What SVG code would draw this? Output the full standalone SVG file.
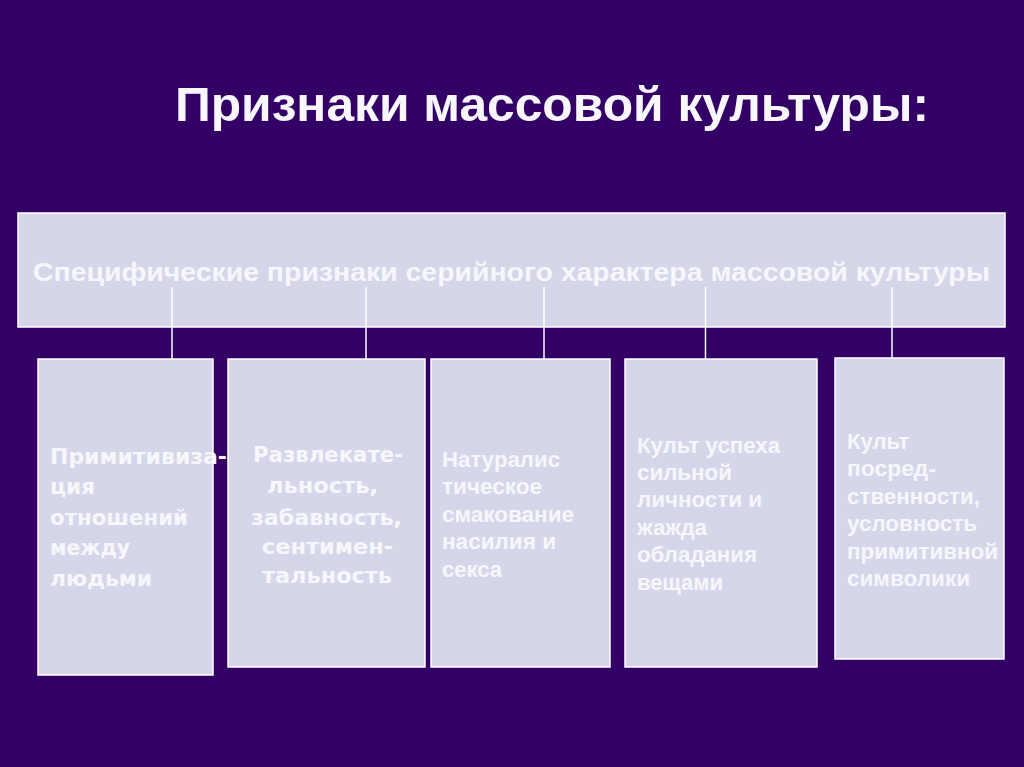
<svg xmlns="http://www.w3.org/2000/svg" width="1024" height="767" viewBox="0 0 1024 767">
<style>
.bg{fill:#330066}
.box{fill:#D6D6EA;stroke:#FFFFFF;stroke-width:1.5}
.t{fill:#F6F6FB;font-weight:bold}
.sans{font-family:"Liberation Sans",Arial,sans-serif}
.dv{font-family:"DejaVu Sans",Verdana,sans-serif;font-size:21px}
.ar{font-family:"Liberation Sans",Arial,sans-serif;font-size:22px}
.con{stroke:#FFFFFF;stroke-width:1.5;fill:none}
</style>
<rect class="bg" x="0" y="0" width="1024" height="767"/>
<g id="title">
<text class="t sans" x="175" y="121" font-size="48" fill="#FFFFFF" textLength="754" lengthAdjust="spacingAndGlyphs">Признаки массовой культуры:</text>
</g>
<g id="top">
<rect class="box" x="18" y="213" width="987" height="114"/>
<text class="t sans" x="33" y="281" font-size="25" textLength="957" lengthAdjust="spacingAndGlyphs">Специфические признаки серийного характера массовой культуры</text>
</g>
<g id="connectors">
<line class="con" x1="172" y1="287" x2="172" y2="359"/>
<line class="con" x1="366" y1="287" x2="366" y2="359"/>
<line class="con" x1="544" y1="287" x2="544" y2="359"/>
<line class="con" x1="705.5" y1="287" x2="705.5" y2="359"/>
<line class="con" x1="892" y1="287" x2="892" y2="358"/>
</g>
<g id="n1">
<rect class="box" x="38" y="359" width="175" height="316"/>
<text class="t dv" x="50" y="464" textLength="177" lengthAdjust="spacingAndGlyphs">Примитивиза-</text>
<text class="t dv" x="50" y="494" textLength="45" lengthAdjust="spacingAndGlyphs">ция</text>
<text class="t dv" x="50" y="525" textLength="138" lengthAdjust="spacingAndGlyphs">отношений</text>
<text class="t dv" x="50" y="555" textLength="80" lengthAdjust="spacingAndGlyphs">между</text>
<text class="t dv" x="50" y="586" textLength="102" lengthAdjust="spacingAndGlyphs">людьми</text>
</g>
<g id="n2">
<rect class="box" x="228" y="359" width="197" height="308"/>
<text class="t dv" x="253" y="462" textLength="150" lengthAdjust="spacingAndGlyphs">Развлекате-</text>
<text class="t dv" x="267" y="493" textLength="111" lengthAdjust="spacingAndGlyphs">льность,</text>
<text class="t dv" x="251" y="525" textLength="151" lengthAdjust="spacingAndGlyphs">забавность,</text>
<text class="t dv" x="262" y="554" textLength="131" lengthAdjust="spacingAndGlyphs">сентимен-</text>
<text class="t dv" x="262" y="583" textLength="130" lengthAdjust="spacingAndGlyphs">тальность</text>
</g>
<g id="n3">
<rect class="box" x="431" y="359" width="179" height="308"/>
<text class="t ar" x="442" y="467" textLength="118" lengthAdjust="spacingAndGlyphs">Натуралис</text>
<text class="t ar" x="442" y="494" textLength="100" lengthAdjust="spacingAndGlyphs">тическое</text>
<text class="t ar" x="442" y="522" textLength="132" lengthAdjust="spacingAndGlyphs">смакование</text>
<text class="t ar" x="442" y="549" textLength="114" lengthAdjust="spacingAndGlyphs">насилия и</text>
<text class="t ar" x="442" y="577" textLength="60" lengthAdjust="spacingAndGlyphs">секса</text>
</g>
<g id="n4">
<rect class="box" x="625" y="359" width="192" height="308"/>
<text class="t ar" x="637" y="453" textLength="143" lengthAdjust="spacingAndGlyphs">Культ успеха</text>
<text class="t ar" x="637" y="480" textLength="95" lengthAdjust="spacingAndGlyphs">сильной</text>
<text class="t ar" x="637" y="507" textLength="125" lengthAdjust="spacingAndGlyphs">личности и</text>
<text class="t ar" x="637" y="535" textLength="70" lengthAdjust="spacingAndGlyphs">жажда</text>
<text class="t ar" x="637" y="562" textLength="120" lengthAdjust="spacingAndGlyphs">обладания</text>
<text class="t ar" x="637" y="590" textLength="86" lengthAdjust="spacingAndGlyphs">вещами</text>
</g>
<g id="n5">
<rect class="box" x="835" y="358" width="169" height="301"/>
<text class="t ar" x="847" y="449" textLength="62" lengthAdjust="spacingAndGlyphs">Культ</text>
<text class="t ar" x="847" y="476" textLength="89" lengthAdjust="spacingAndGlyphs">посред-</text>
<text class="t ar" x="847" y="504" textLength="133" lengthAdjust="spacingAndGlyphs">ственности,</text>
<text class="t ar" x="847" y="531" textLength="130" lengthAdjust="spacingAndGlyphs">условность</text>
<text class="t ar" x="847" y="559" textLength="151" lengthAdjust="spacingAndGlyphs">примитивной</text>
<text class="t ar" x="847" y="586" textLength="123" lengthAdjust="spacingAndGlyphs">символики</text>
</g>
</svg>
